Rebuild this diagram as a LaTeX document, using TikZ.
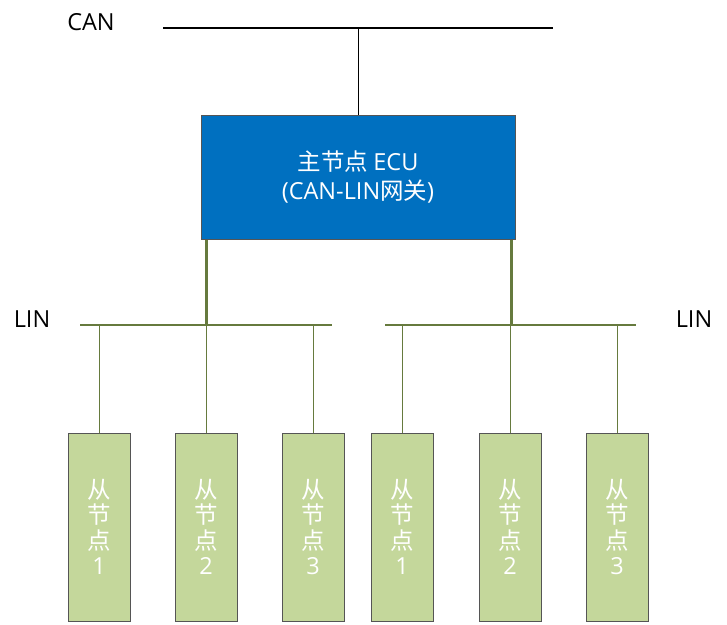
\documentclass[tikz,border=0pt]{standalone}
\usepackage{fontspec}
\setmainfont{Open Sans}
\newfontfamily\cjk{Noto Sans CJK SC}
\definecolor{ecublue}{HTML}{0070C0}
\definecolor{slavegreen}{HTML}{C4D79B}
\definecolor{linolive}{HTML}{667A3E}
\definecolor{boxedge}{HTML}{555555}
\begin{document}
\begin{tikzpicture}[x=1pt,y=-1pt,
  lbl/.style={font=\fontsize{23.5}{26}\selectfont, text=black, inner sep=0pt},
  ecubox/.style={draw=boxedge, line width=1pt, fill=ecublue, text=white, minimum width=314pt, minimum height=124pt, inner sep=0pt, align=center, font=\fontsize{23.5}{29}\selectfont},
  slavebox/.style={draw=boxedge, line width=1pt, fill=slavegreen, text=white, minimum width=62pt, minimum height=188pt, inner sep=0pt, align=center, font=\fontsize{23.5}{25.5}\selectfont},
  canbus/.style={line width=2pt, black},
  linbus/.style={line width=2.5pt, linolive},
  drop/.style={line width=3pt, linolive},
  stub/.style={line width=1pt, linolive}
]
\useasboundingbox (0,0) rectangle (727,624);
% CAN
\node[lbl] (canlbl) at (91,22) {CAN};
\coordinate (canL) at (163,27.5);
\coordinate (canR) at (553,27.5);
\coordinate (canT) at (358,27.5);
\draw[canbus] (canL) -- (canR);
% ECU
\node[ecubox] (ecu) at (358,177) {\cjk 主节点\ \rmfamily ECU\\(CAN-LIN{\cjk 网关})};
\draw[line width=1pt] (canT) -- (ecu.north);
% LIN buses
\coordinate (linLa) at (80,325);
\coordinate (linLb) at (332,325);
\coordinate (linRa) at (385,325);
\coordinate (linRb) at (636,325);
\draw[linbus] (linLa) -- (linLb);
\draw[linbus] (linRa) -- (linRb);
\node[lbl] (linlblL) at (32,319) {LIN};
\node[lbl] (linlblR) at (694,319) {LIN};
\coordinate (dropL) at (206,325);
\coordinate (dropR) at (511,325);
\draw[drop] (ecu.south -| dropL) -- (dropL);
\draw[drop] (ecu.south -| dropR) -- (dropR);
% slaves
\foreach \n/\x/\k in {a/99/1, b/206/2, c/313/3, d/402/1, e/510/2, f/617/3}{
  \node[slavebox] (s\n) at (\x,527) {\cjk 从\\\cjk 节\\\cjk 点\\\k};
  \coordinate (t\n) at (\x,325);
  \draw[stub] (t\n) -- (s\n.north);
}
\end{tikzpicture}
\end{document}
